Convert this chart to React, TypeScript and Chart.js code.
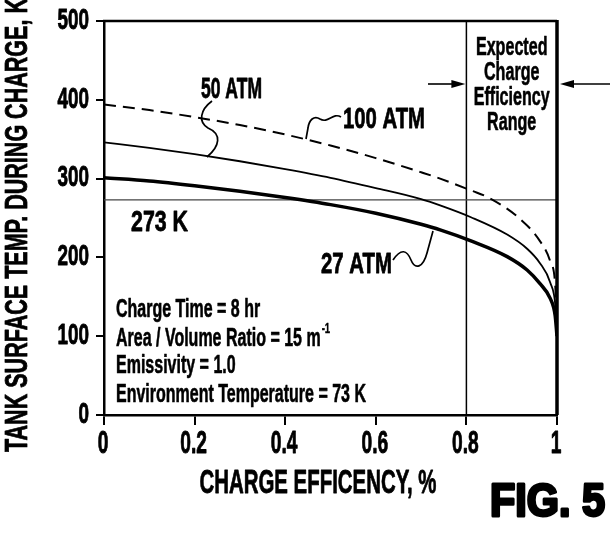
import React, { useEffect, useRef } from 'react';
import { Chart, registerables } from 'chart.js';

Chart.register(...registerables);

const FAM = '"Liberation Sans", Arial, Helvetica, sans-serif';

// Axis definitions
const xTickValues = [0, 0.2, 0.4, 0.6, 0.8, 1];
const xTickLabels = ['0', '0.2', '0.4', '0.6', '0.8', '1'];
const yTickValues = [0, 100, 200, 300, 400, 500];
const yTickLabels = ['0', '100', '200', '300', '400', '500'];
const xTitle = 'CHARGE EFFICENCY, %';
const yTitle = 'TANK SURFACE TEMP. DURING CHARGE, K';

// Series: 100 ATM (dashed)
const atm100X = [0, 0.1, 0.2, 0.3, 0.4, 0.5, 0.6, 0.7, 0.742, 0.81, 0.852, 0.918, 0.962, 0.985, 0.996, 1.0];
const atm100Y = [394, 387, 378, 368, 356, 342, 326, 308, 300, 285, 275, 249, 221, 195, 165, 110];
// Series: 50 ATM (thin solid)
const atm50X = [0, 0.1, 0.2, 0.3, 0.4, 0.5, 0.6, 0.7, 0.742, 0.81, 0.89, 0.934, 0.962, 0.985, 0.997, 1.0];
const atm50Y = [346, 339, 331, 322, 312, 301, 288, 274, 266, 251, 229, 211, 193, 168, 135, 100];
// Series: 27 ATM (thick solid)
const atm27X = [0, 0.1, 0.2, 0.3, 0.4, 0.5, 0.6, 0.7, 0.742, 0.81, 0.89, 0.934, 0.962, 0.985, 0.996, 1.0];
const atm27Y = [301, 297, 291, 284, 276, 267, 256, 242, 235, 221, 201, 184, 167, 148, 126, 100];

// Reference values
const refTempK = 273;
const rangeStart = 0.8;

// Text labels
const infoLines = ['Charge Time = 8 hr', 'Area / Volume Ratio = 15 m', 'Emissivity = 1.0', 'Environment Temperature = 73 K'];
const rangeLines = ['Expected', 'Charge', 'Efficiency', 'Range'];
const figLabel = 'FIG. 5';

const pts = (xs: number[], ys: number[]) => xs.map((x, i) => ({ x, y: ys[i] }));

const CAP = 0.716;

// Draw condensed bold text; cy is the vertical centre of the capital letters.
function label(
  ctx: CanvasRenderingContext2D,
  text: string,
  x: number,
  cy: number,
  size: number,
  align: CanvasTextAlign,
  opt: { sx?: number; width?: number; stroke?: number }
) {
  ctx.save();
  ctx.font = `bold ${size}px ${FAM}`;
  const m = ctx.measureText(text).width;
  const sx = opt.width ? opt.width / m : opt.sx ?? 0.63;
  ctx.translate(x, cy + (size * CAP) / 2);
  ctx.scale(sx, 1);
  ctx.textAlign = align;
  ctx.textBaseline = 'alphabetic';
  ctx.fillStyle = '#000';
  ctx.fillText(text, 0, 0);
  if (opt.stroke) {
    ctx.strokeStyle = '#000';
    ctx.lineWidth = opt.stroke;
    ctx.lineJoin = 'round';
    ctx.strokeText(text, 0, 0);
  }
  ctx.restore();
  return { w: m * sx, sx };
}

function arrow(ctx: CanvasRenderingContext2D, x0: number, x1: number, y: number) {
  const dir = Math.sign(x1 - x0);
  ctx.beginPath();
  ctx.moveTo(x0, y);
  ctx.lineTo(x1 - dir * 8, y);
  ctx.lineWidth = 1.6;
  ctx.stroke();
  ctx.beginPath();
  ctx.moveTo(x1, y);
  ctx.lineTo(x1 - dir * 14, y - 4);
  ctx.lineTo(x1 - dir * 14, y + 4);
  ctx.closePath();
  ctx.fill();
}

const overlay = {
  id: 'overlay',
  afterDatasetsDraw(chart: any) {
    const { ctx, chartArea: a, scales } = chart;
    const xs = scales.x;
    const ys = scales.y;
    ctx.save();
    ctx.strokeStyle = '#000';
    ctx.fillStyle = '#000';
    // frame: top and right
    ctx.lineWidth = 2.5;
    ctx.beginPath();
    ctx.moveTo(a.left - 1, a.top);
    ctx.lineTo(a.right, a.top);
    ctx.stroke();
    ctx.lineWidth = 3.5;
    ctx.beginPath();
    ctx.moveTo(a.right, a.top - 1);
    ctx.lineTo(a.right, a.bottom);
    ctx.stroke();

    // tick labels
    yTickValues.forEach((v, i) => {
      label(ctx, yTickLabels[i], a.left - 15, ys.getPixelForValue(v) - 3, 30, 'right', { sx: 0.63, stroke: 0.9 });
    });
    xTickValues.forEach((v, i) => {
      label(ctx, xTickLabels[i], xs.getPixelForValue(v) - 1, 442, 32, 'center', { sx: 0.6, stroke: 0.9 });
    });

    // axis titles
    label(ctx, xTitle, 318, 481, 34, 'center', { width: 237, stroke: 0.8 });
    ctx.save();
    ctx.translate(15.5, 225);
    ctx.rotate(-Math.PI / 2);
    label(ctx, yTitle, 0, 0, 32, 'center', { width: 454, stroke: 0.8 });
    ctx.restore();

    // curve labels
    label(ctx, '50 ATM', 201, 87, 30, 'left', { width: 61, stroke: 0.8 });
    label(ctx, '100 ATM', 343, 117, 30, 'left', { width: 82, stroke: 0.8 });
    label(ctx, '273 K', 131, 220, 30, 'left', { width: 57, stroke: 0.8 });
    label(ctx, '27 ATM', 321, 262, 30, 'left', { width: 71, stroke: 0.8 });

    // callout squiggles
    ctx.lineWidth = 1.7;
    ctx.beginPath();
    ctx.moveTo(212, 101);
    ctx.bezierCurveTo(200, 110, 198, 122, 208, 128);
    ctx.bezierCurveTo(222, 134, 220, 146, 207, 157);
    ctx.stroke();

    ctx.beginPath();
    ctx.moveTo(341, 117);
    ctx.bezierCurveTo(333, 112, 328, 124, 320, 119);
    ctx.bezierCurveTo(314, 115, 309, 120, 308, 128);
    ctx.lineTo(306, 139);
    ctx.stroke();

    ctx.beginPath();
    ctx.moveTo(393, 260);
    ctx.bezierCurveTo(401, 248, 407, 250, 411, 260);
    ctx.bezierCurveTo(415, 270, 423, 268, 427, 253);
    ctx.lineTo(433, 231);
    ctx.stroke();

    // info text
    const infoY = [308, 337, 364, 393];
    ctx.font = `bold 25px ${FAM}`;
    const infoSx = 250 / ctx.measureText(infoLines[3]).width;
    infoLines.forEach((t, i) => {
      const r = label(ctx, t, 116, infoY[i], 25, 'left', { sx: infoSx, stroke: 0.6 });
      if (i === 1) label(ctx, '-1', 116 + r.w + 1, infoY[i] - 9, 15, 'left', { sx: infoSx, stroke: 0.4 });
    });

    // expected range text
    const ry = [46, 71, 96, 121];
    ctx.font = `bold 25px ${FAM}`;
    const rSx = 76 / ctx.measureText('Efficiency').width;
    const rx = (xs.getPixelForValue(rangeStart) + a.right) / 2;
    rangeLines.forEach((t, i) => label(ctx, t, rx, ry[i], 25, 'center', { sx: rSx, stroke: 0.6 }));

    // arrows
    ctx.strokeStyle = '#000';
    arrow(ctx, 428, xs.getPixelForValue(rangeStart) - 1, 84);
    arrow(ctx, 610, a.right + 3, 84);

    // FIG. 5
    label(ctx, figLabel, 490, 499, 47, 'left', { width: 115, stroke: 3 });

    ctx.restore();
  },
};

export default function App() {
  const ref = useRef<HTMLCanvasElement>(null);
  useEffect(() => {
    if (!ref.current) return;
    const chart = new Chart(ref.current, {
      type: 'line',
      data: {
        datasets: [
          {
            label: '100 ATM',
            data: pts(atm100X, atm100Y),
            borderColor: '#000',
            borderWidth: 2,
            borderDash: [12, 7],
            pointRadius: 0,
            cubicInterpolationMode: 'monotone',
          },
          {
            label: '50 ATM',
            data: pts(atm50X, atm50Y),
            borderColor: '#000',
            borderWidth: 1.8,
            pointRadius: 0,
            cubicInterpolationMode: 'monotone',
          },
          {
            label: '27 ATM',
            data: pts(atm27X, atm27Y),
            borderColor: '#000',
            borderWidth: 3.5,
            pointRadius: 0,
            cubicInterpolationMode: 'monotone',
          },
          {
            label: '273 K',
            data: [{ x: 0, y: refTempK }, { x: 1, y: refTempK }],
            borderColor: '#444',
            borderWidth: 1.3,
            pointRadius: 0,
          },
          {
            label: 'range',
            data: [{ x: rangeStart, y: 0 }, { x: rangeStart, y: 500 }],
            borderColor: '#000',
            borderWidth: 1.5,
            pointRadius: 0,
          },
        ],
      } as any,
      options: {
        animation: false,
        responsive: false,
        events: [],
        layout: { padding: { top: 21, right: 57, bottom: 35, left: 0 } },
        plugins: { legend: { display: false }, tooltip: { enabled: false } },
        scales: {
          x: {
            type: 'linear',
            min: 0,
            max: 1,
            afterBuildTicks: (s: any) => { s.ticks = xTickValues.map((v) => ({ value: v })); },
            afterFit: (s: any) => { s.height = 85; },
            ticks: { display: false },
            grid: { drawOnChartArea: false, drawTicks: true, tickLength: 10, color: '#000', lineWidth: 2 },
            border: { display: true, color: '#000', width: 2.5 },
            title: { display: false },
          },
          y: {
            type: 'linear',
            min: 0,
            max: 500,
            afterBuildTicks: (s: any) => { s.ticks = yTickValues.map((v) => ({ value: v })); },
            afterFit: (s: any) => { s.width = 104; },
            ticks: { display: false },
            grid: { drawOnChartArea: false, drawTicks: true, tickLength: 8, color: '#000', lineWidth: 2 },
            border: { display: true, color: '#000', width: 2.5 },
            title: { display: false },
          },
        },
      } as any,
      plugins: [overlay],
    });
    return () => chart.destroy();
  }, []);
  return (
    <div style={{ position: 'absolute', left: 0, top: 0, width: 614, height: 535, background: '#fff' }}>
      <canvas ref={ref} width={614} height={535} style={{ width: 614, height: 535, display: 'block' }} />
    </div>
  );
}
